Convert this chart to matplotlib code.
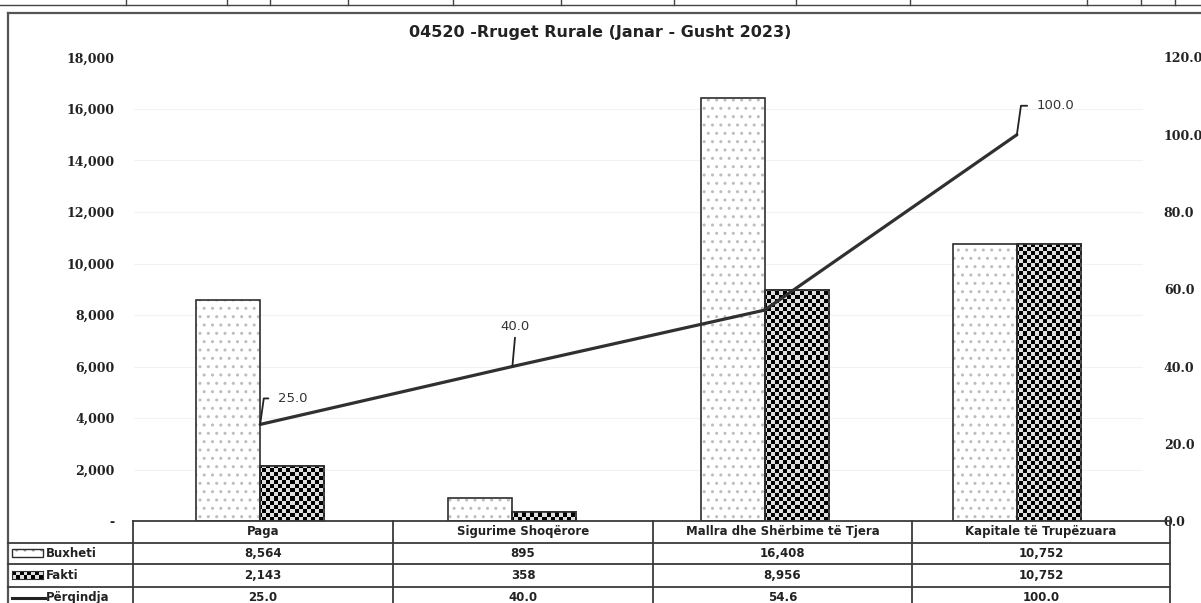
import matplotlib.pyplot as plt
import numpy as np
from matplotlib.patches import Rectangle
from matplotlib.lines import Line2D

categories = ['Paga', 'Sigurime Shoqërore', 'Mallra dhe Shërbime të Tjera', 'Kapitale të Trupëzuara']
buxheti = [8564, 895, 16408, 10752]
fakti = [2143, 358, 8956, 10752]
perqindja = [25.0, 40.0, 54.6, 100.0]
left_ticks = [0, 2000, 4000, 6000, 8000, 10000, 12000, 14000, 16000, 18000]
right_ticks = [0, 20, 40, 60, 80, 100, 120]
title = '04520 -Rruget Rurale (Janar - Gusht 2023)'

W, H = 1201, 603
def fx(p): return p / W
def fy(p): return 1 - p / H

dark = '#2e2e2e'
fig = plt.figure(figsize=(W / 100, H / 100), dpi=100)

# outer chart frame + bits of the table above it
fig.add_artist(Line2D([fx(8), fx(8)], [fy(13), 0], color='#555555', lw=1.6, transform=fig.transFigure))
fig.add_artist(Line2D([fx(8), 1], [fy(13), fy(13)], color='#555555', lw=1.6, transform=fig.transFigure))
fig.add_artist(Line2D([0, 1], [fy(5), fy(5)], color='#444444', lw=1.0, transform=fig.transFigure))
for px in [126, 227, 270, 348, 453, 561, 674, 796, 910, 1087, 1141, 1175]:
    fig.add_artist(Line2D([fx(px), fx(px)], [fy(5), 1], color='#444444', lw=1.0, transform=fig.transFigure))

ax = fig.add_axes([fx(134), fy(521), (1143 - 134) / W, (521 - 57.5) / H])
ax2 = ax.twinx()
x = np.arange(len(categories))
bw = 0.254

ax.set_xlim(-0.5, 3.5)
ax.set_ylim(0, 18000)
ax2.set_ylim(0, 120)
for a in (ax, ax2):
    for s in a.spines.values():
        s.set_visible(False)
    a.tick_params(length=0)
ax.set_xticks([])
ax.set_yticks(left_ticks)
ax.set_yticklabels(['-' if v == 0 else f'{v:,}' for v in left_ticks],
                   fontfamily='DejaVu Serif', fontweight='bold', fontsize=9, color='#222222')
ax.tick_params(axis='y', pad=14)
ax2.set_yticks(right_ticks)
ax2.set_yticklabels([f'{v:.1f}' for v in right_ticks],
                    fontfamily='DejaVu Serif', fontweight='bold', fontsize=9, color='#222222')
ax2.tick_params(axis='y', pad=15)
ax.yaxis.grid(True, color='#f2f2f2', lw=0.8, zorder=0)
ax.set_axisbelow(True)

# Buxheti: light dotted fill
plt.rcParams['hatch.linewidth'] = 1.0
ax.bar(x - bw / 2, buxheti, bw, facecolor='white', edgecolor='#bdbdbd', lw=0, hatch='..', zorder=2)
ax.bar(x - bw / 2, buxheti, bw, facecolor='none', edgecolor=dark, lw=1.2, zorder=3)

# Fakti: checkerboard fill
fbars = ax.bar(x + bw / 2, fakti, bw, facecolor='white', edgecolor=dark, lw=1.2, zorder=2)
nx, ny = int((1143 - 134) / 4), int((521 - 57.5) / 4)
checker = (np.indices((ny, nx)).sum(axis=0) % 2).astype(float)
for b in fbars:
    im = ax.imshow(checker, cmap='gray', vmin=0, vmax=1.15, extent=(-0.5, 3.5, 0, 18000),
                   aspect='auto', interpolation='nearest', zorder=2.5)
    im.set_clip_path(b)
ax.bar(x + bw / 2, fakti, bw, facecolor='none', edgecolor=dark, lw=1.2, zorder=3)
ax.set_xlim(-0.5, 3.5)
ax.set_ylim(0, 18000)

# Përqindja line
ax2.plot(x, perqindja, color='#303030', lw=2.3, solid_capstyle='round', zorder=4)

def lab(a, i, dx, dy, style, zorder=5):
    v = perqindja[i]
    if style == 'up':
        a.annotate(f'{v:.1f}', xy=(x[i], v), xycoords=ax2.transData, xytext=(dx * 0.72, dy * 0.72),
                   textcoords='offset points', ha='center', va='bottom', fontsize=9.5,
                   fontfamily='DejaVu Sans', color='#333333', zorder=zorder,
                   arrowprops=dict(arrowstyle='-', color='#222222', lw=1.3, shrinkA=1, shrinkB=0,
                                   relpos=(0.5, 0)))
    else:
        a.annotate(f'{v:.1f}', xy=(x[i], v), xycoords=ax2.transData, xytext=(dx * 0.72, dy * 0.72),
                   textcoords='offset points', ha='left', va='center', fontsize=9.5,
                   fontfamily='DejaVu Sans', color='#333333', zorder=zorder,
                   arrowprops=dict(arrowstyle='-', color='#222222', lw=1.3, shrinkA=5, shrinkB=0,
                                   relpos=(0, 0.5),
                                   connectionstyle='angle,angleA=0,angleB=82,rad=0'))

lab(ax2, 0, 18, 26, 'side')
lab(ax2, 1, 3, 33, 'up')
lab(ax, 2, 36, 14, 'side', zorder=1)
lab(ax2, 3, 20, 29, 'side')

fig.text(fx(600), fy(33), title, ha='center', va='center', fontsize=11.5,
         fontweight='bold', fontfamily='DejaVu Sans', color='#222222')

# data table under the plot
cols = [133, 393, 653, 912, 1170]
rows = [521, 542.5, 564, 586.5, 609]
lc = '#3a3a3a'
def hline(y, x0, x1):
    fig.add_artist(Line2D([fx(x0), fx(x1)], [fy(y), fy(y)], color=lc, lw=1.3, transform=fig.transFigure))
def vline(xp, y0, y1):
    fig.add_artist(Line2D([fx(xp), fx(xp)], [fy(y0), fy(y1)], color=lc, lw=1.3, transform=fig.transFigure))

hline(rows[0], cols[0], cols[-1])
for r in rows[1:4]:
    hline(r, 8, cols[-1])
for c in cols:
    vline(c, rows[0], H)

tkw = dict(ha='center', va='center', fontsize=8.5, fontweight='bold',
           fontfamily='DejaVu Sans', color='#222222')
row_vals = [[f'{v:,}' for v in buxheti], [f'{v:,}' for v in fakti], [f'{v:.1f}' for v in perqindja]]
for j, c in enumerate(categories):
    xc = (cols[j] + cols[j + 1]) / 2
    fig.text(fx(xc), fy((rows[0] + rows[1]) / 2), c, **tkw)
    for r in range(3):
        fig.text(fx(xc), fy((rows[r + 1] + rows[r + 2]) / 2), row_vals[r][j], **tkw)

row_names = ['Buxheti', 'Fakti', 'Përqindja']
for r, name in enumerate(row_names):
    yc = (rows[r + 1] + rows[r + 2]) / 2
    fig.text(fx(46), fy(yc), name, ha='left', va='center', fontsize=8.5, fontweight='bold',
             fontfamily='DejaVu Sans', color='#222222')

# legend keys
y0 = (rows[1] + rows[2]) / 2
fig.add_artist(Rectangle((fx(12), fy(y0 + 4)), 31 / W, 8 / H, transform=fig.transFigure,
                         facecolor='white', edgecolor='#999999', lw=0, hatch='..'))
fig.add_artist(Rectangle((fx(12), fy(y0 + 4)), 31 / W, 8 / H, transform=fig.transFigure,
                         facecolor='none', edgecolor=dark, lw=1.0))
y1 = (rows[2] + rows[3]) / 2
kax = fig.add_axes([fx(12), fy(y1 + 4), 31 / W, 8 / H])
kax.imshow(np.indices((2, 8)).sum(axis=0) % 2, cmap='gray', vmin=0, vmax=1.15,
           aspect='auto', interpolation='nearest')
kax.set_xticks([])
kax.set_yticks([])
for s in kax.spines.values():
    s.set_color(dark)
y2 = (rows[3] + rows[4]) / 2
fig.add_artist(Line2D([fx(12), fx(45)], [fy(y2), fy(y2)], color='#222222', lw=2.2,
                      transform=fig.transFigure))

fig.savefig('out.png', dpi=100)
